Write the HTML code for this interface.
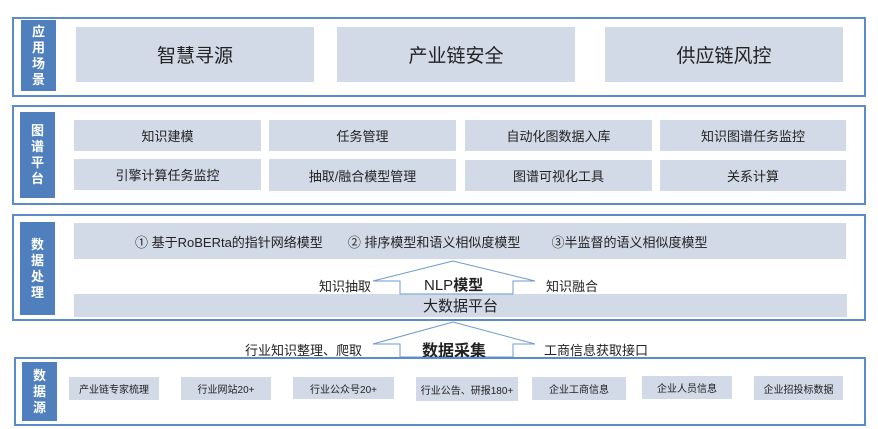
<!DOCTYPE html>
<html><head><meta charset="utf-8"><style>
body{margin:0;width:878px;height:429px;background:#fff;position:relative;overflow:hidden;font-family:"Liberation Sans","Noto Sans CJK SC",sans-serif;color:#222}
div{position:absolute;box-sizing:border-box}
.sec{border:2px solid #5b8bc8}
.lab{background:#4f7fbd;color:#fff;font-weight:bold;font-size:13px;line-height:16px;text-align:center;display:flex;align-items:center;justify-content:center;padding:0 9px}
.b{background:#d2d9e7;display:flex;align-items:center;justify-content:center;font-size:13px}
.t{font-size:13px;white-space:nowrap}
</style></head><body>
<div class="sec" style="left:12px;top:17px;width:854px;height:80px"></div>
<div class="lab" style="left:21px;top:20px;width:35px;height:71px">应用场景</div>
<div class="b" style="left:76px;top:27px;width:238px;height:55px;font-size:19px">智慧寻源</div>
<div class="b" style="left:337px;top:27px;width:238px;height:55px;font-size:19px">产业链安全</div>
<div class="b" style="left:605px;top:27px;width:238px;height:55px;font-size:19px">供应链风控</div>

<div class="sec" style="left:12px;top:105px;width:854px;height:100px"></div>
<div class="lab" style="left:20px;top:112px;width:35px;height:86px">图谱平台</div>
<div class="b" style="left:74px;top:120px;width:187px;height:31px">知识建模</div>
<div class="b" style="left:269px;top:120px;width:187px;height:31px">任务管理</div>
<div class="b" style="left:465px;top:120px;width:187px;height:31px">自动化图数据入库</div>
<div class="b" style="left:660px;top:120px;width:186px;height:31px">知识图谱任务监控</div>
<div class="b" style="left:74px;top:159px;width:187px;height:31px">引擎计算任务监控</div>
<div class="b" style="left:269px;top:159px;width:187px;height:32px">抽取/融合模型管理</div>
<div class="b" style="left:465px;top:160px;width:187px;height:31px">图谱可视化工具</div>
<div class="b" style="left:660px;top:160px;width:186px;height:31px">关系计算</div>

<div class="sec" style="left:12px;top:214px;width:854px;height:107px"></div>
<div class="lab" style="left:20px;top:222px;width:35px;height:93px">数据处理</div>
<div class="b" style="left:74px;top:223px;width:772px;height:36px;justify-content:flex-start;padding-left:61px">① 基于RoBERta的指针网络模型<span style="margin-left:25px">② 排序模型和语义相似度模型</span><span style="margin-left:31px">③半监督的语义相似度模型</span></div>
<div class="b" style="left:74px;top:294px;width:773px;height:23px;font-size:15px">大数据平台</div>

<svg style="position:absolute;left:0;top:0" width="878" height="429">
<polygon points="453,261 373,281 400,281 400,294 513,294 513,281 535,281" fill="#fff" stroke="#6d9ad0" stroke-width="1"/>
<polygon points="453,322 373,344 400,344 400,357 513,357 513,344 535,344" fill="#fff" stroke="#6d9ad0" stroke-width="1"/>
</svg>
<div class="t" style="left:319px;top:276px">知识抽取</div>
<div class="t" style="left:546px;top:276px">知识融合</div>
<div class="t" style="left:424px;top:274px;font-size:15px">NLP<b>模型</b></div>
<div class="t" style="left:245px;top:340px">行业知识整理、爬取</div>
<div class="t" style="left:544px;top:340px">工商信息获取接口</div>
<div class="t" style="left:422px;top:337px;font-size:16px;font-weight:bold">数据采集</div>

<div class="sec" style="left:14px;top:357px;width:852px;height:69px"></div>
<div class="lab" style="left:22px;top:362px;width:35px;height:59px">数据源</div>
<div class="b" style="left:69px;top:377px;width:90px;height:23px;font-size:10px">产业链专家梳理</div>
<div class="b" style="left:181px;top:377px;width:90px;height:23px;font-size:10px">行业网站20+</div>
<div class="b" style="left:293px;top:377px;width:101px;height:22px;font-size:10px">行业公众号20+</div>
<div class="b" style="left:416px;top:377px;width:102px;height:24px;font-size:10px">行业公告、研报180+</div>
<div class="b" style="left:532px;top:377px;width:94px;height:23px;font-size:10px">企业工商信息</div>
<div class="b" style="left:642px;top:376px;width:90px;height:23px;font-size:10px">企业人员信息</div>
<div class="b" style="left:754px;top:376px;width:89px;height:24px;font-size:10px">企业招投标数据</div>
</body></html>
